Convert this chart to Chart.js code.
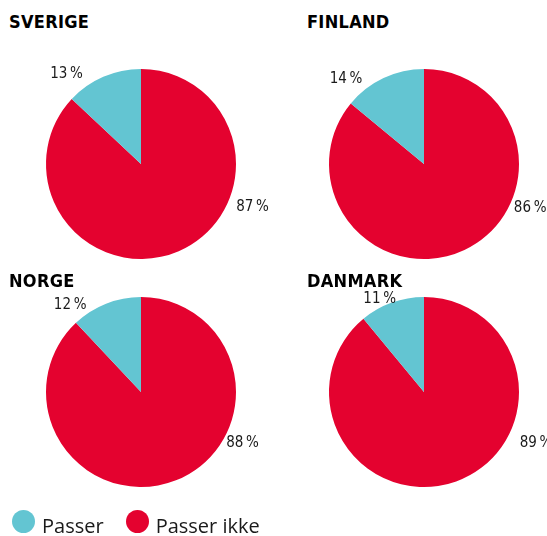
<!DOCTYPE html>
<html>
<head>
<meta charset="utf-8">
<script src="https://cdn.jsdelivr.net/npm/chart.js@4"></script>
<style>
  html, body { margin: 0; padding: 0; background: #fff; }
  body { width: 547px; height: 536px; position: relative; overflow: hidden; font-family: "Open Sans", sans-serif; color: #1a1a1a; }
  .title { position: absolute; font-family: "DejaVu Sans Condensed", "DejaVu Sans", sans-serif; font-weight: bold; font-size: 18px; line-height: 20px; color: #000; letter-spacing: 0.3px; }
  .box { position: absolute; width: 270px; height: 270px; }
  .legend { position: absolute; left: 12px; top: 511px; display: flex; align-items: center; font-size: 20px; line-height: 24px; }
  .legend .item { display: flex; align-items: center; margin-right: 22px; }
  .legend .dot { width: 23px; height: 23px; border-radius: 50%; margin-right: 7px; position: relative; top: -2px; }
  .legend .txt { position: relative; top: 3px; }
</style>
</head>
<body>
<script>
// ---- data ----
const countries = ['SVERIGE', 'FINLAND', 'NORGE', 'DANMARK'];
const categories = ['Passer', 'Passer ikke'];
const passer = [13, 14, 12, 11];
const passerIkke = [87, 86, 88, 89];

// ---- styling / layout (not data) ----
const colors = { 'Passer': '#63c5d2', 'Passer ikke': '#e4022f' };
const centers = [[141, 164], [424, 164], [141, 392], [424, 392]];
const titlePos = [[9, 12], [307, 12], [9, 271], [307, 271]];
// label placement: angle (deg, from +x axis, clockwise) and distance relative to outer radius
const labelPlace = [
  { ikke: [21.1, 1.258], passer: [-129.8, 1.225] },
  { ikke: [22.5, 1.21],  passer: [-132.7, 1.21] },
  { ikke: [26.9, 1.198], passer: [-129.2, 1.18] },
  { ikke: [24.7, 1.298], passer: [-115.6, 1.08] }
];
const SIZE = 270, PAD = 40;

const labelPlugin = {
  id: 'pctLabels',
  afterDatasetsDraw(chart, args, opts) {
    const ctx = chart.ctx;
    const meta = chart.getDatasetMeta(0);
    const ds = chart.data.datasets[0];
    const place = opts.place;
    ctx.save();
    ctx.font = '15px "DejaVu Sans Condensed", "DejaVu Sans", sans-serif';
    ctx.fillStyle = '#1a1a1a';
    ctx.textAlign = 'center';
    ctx.textBaseline = 'middle';
    meta.data.forEach((arc, i) => {
      const cat = chart.data.labels[i];
      const p = cat === 'Passer' ? place.passer : place.ikke;
      const a = p[0] * Math.PI / 180;
      const r = arc.outerRadius * p[1];
      const x = arc.x + Math.cos(a) * r;
      const y = arc.y + Math.sin(a) * r;
      ctx.fillText(ds.data[i] + '\u2009%', x, y);
    });
    ctx.restore();
  }
};

countries.forEach((name, k) => {
  const t = document.createElement('div');
  t.className = 'title';
  t.textContent = name;
  t.style.left = titlePos[k][0] + 'px';
  t.style.top = titlePos[k][1] + 'px';
  document.body.appendChild(t);

  const box = document.createElement('div');
  box.className = 'box';
  box.style.left = (centers[k][0] - SIZE / 2) + 'px';
  box.style.top = (centers[k][1] - SIZE / 2) + 'px';
  const cv = document.createElement('canvas');
  box.appendChild(cv);
  document.body.appendChild(box);

  const order = ['Passer ikke', 'Passer'];
  const vals = { 'Passer': passer[k], 'Passer ikke': passerIkke[k] };
  new Chart(cv, {
    type: 'pie',
    data: {
      labels: order,
      datasets: [{
        data: order.map(c => vals[c]),
        backgroundColor: order.map(c => colors[c]),
        borderWidth: 0
      }]
    },
    options: {
      responsive: true,
      maintainAspectRatio: false,
      animation: false,
      layout: { padding: PAD },
      plugins: {
        legend: { display: false },
        tooltip: { enabled: false },
        pctLabels: { place: labelPlace[k] }
      }
    },
    plugins: [labelPlugin]
  });
});

// legend
const lg = document.createElement('div');
lg.className = 'legend';
categories.forEach(c => {
  const it = document.createElement('div');
  it.className = 'item';
  const d = document.createElement('span');
  d.className = 'dot';
  d.style.background = colors[c];
  const s = document.createElement('span');
  s.className = 'txt';
  s.textContent = c;
  it.appendChild(d); it.appendChild(s);
  lg.appendChild(it);
});
document.body.appendChild(lg);
</script>
</body>
</html>
